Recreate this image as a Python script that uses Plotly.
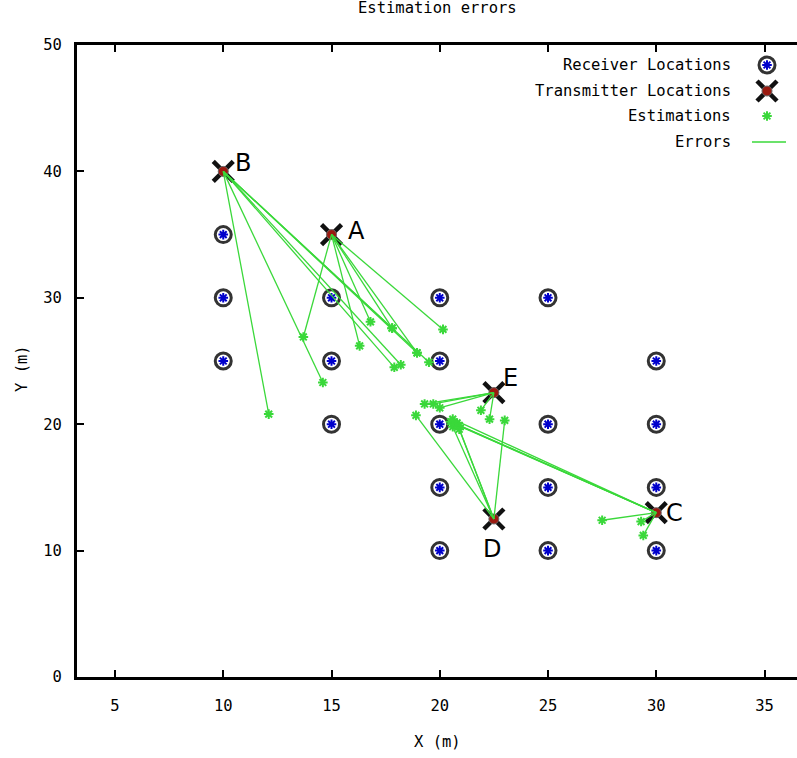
import plotly.graph_objects as go

# ---------------- data ----------------
rx_x = [10, 10, 10, 15, 15, 15, 20, 20, 20, 20, 20, 25, 25, 25, 25, 30, 30, 30, 30]
rx_y = [35, 30, 25, 30, 25, 20, 30, 25, 20, 15, 10, 30, 20, 15, 10, 25, 20, 15, 10]

tx_labels = ["A", "B", "C", "D", "E"]
tx_x = [15, 10, 30, 22.5, 22.5]
tx_y = [35, 40, 13, 12.5, 22.5]

est_from = ["B", "B", "B", "B", "B", "B", "B",
            "A", "A", "A", "A", "A", "A",
            "E", "E", "E", "E", "E",
            "D", "D", "D", "D", "D",
            "C", "C", "C", "C", "C", "C", "C"]
est_x = [12.1, 14.6, 17.9, 18.2, 18.95, 19.5, 17.8,
         13.7, 16.3, 16.8, 17.8, 20.15, 18.95,
         19.3, 19.7, 20.0, 21.9, 22.3,
         18.9, 20.6, 20.8, 20.9, 23.0,
         20.5, 20.7, 20.9, 20.6, 27.5, 29.3, 29.4]
est_y = [20.8, 23.3, 24.5, 24.7, 25.65, 24.9, 27.6,
         26.9, 26.2, 28.1, 27.6, 27.5, 25.65,
         21.6, 21.6, 21.3, 21.1, 20.4,
         20.7, 19.8, 20.1, 19.6, 20.3,
         20.2, 20.0, 19.9, 20.4, 12.4, 12.3, 11.2]

x_ticks = [5, 10, 15, 20, 25, 30, 35]
y_ticks = [0, 10, 20, 30, 40, 50]

legend_names = ["Receiver Locations", "Transmitter Locations", "Estimations", "Errors"]

# ---------------- styling ----------------
MONO = "DejaVu Sans Mono"
FS = 15.5
GREEN = "#3ad83a"
RX_RING = "#333333"
RX_STAR = "#0000cc"
TX_X = "#111111"
TX_DOT = "#9a1a10"

# label offsets (pixels) for transmitter letters
lab_off = {"A": (14, 4, "left"), "B": (10, 8, "left"), "C": (8, 0, "left"),
           "D": (-2, -30, "center"), "E": (7, 15, "left")}

fig = go.Figure()

def rx_markers(x, y, **kw):
    fig.add_trace(go.Scatter(x=x, y=y, mode="markers", showlegend=False, hoverinfo="skip",
                             marker=dict(symbol="circle-open", size=16, color=RX_RING,
                                         line=dict(width=3, color=RX_RING)), **kw))
    fig.add_trace(go.Scatter(x=x, y=y, mode="markers", showlegend=False, hoverinfo="skip",
                             marker=dict(symbol="asterisk-open", size=8, color=RX_STAR,
                                         line=dict(width=2, color=RX_STAR)), **kw))

def tx_markers(x, y, **kw):
    fig.add_trace(go.Scatter(x=x, y=y, mode="markers", showlegend=False, hoverinfo="skip",
                             marker=dict(symbol="x-thin-open", size=20, color=TX_X,
                                         line=dict(width=4.5, color=TX_X)), **kw))
    fig.add_trace(go.Scatter(x=x, y=y, mode="markers", showlegend=False, hoverinfo="skip",
                             marker=dict(symbol="circle", size=10, color=TX_DOT,
                                         line=dict(width=1, color="#666666")), **kw))

def est_markers(x, y, **kw):
    fig.add_trace(go.Scatter(x=x, y=y, mode="markers", showlegend=False, hoverinfo="skip",
                             marker=dict(symbol="asterisk-open", size=8, color=GREEN,
                                         line=dict(width=2, color=GREEN)), **kw))

rx_markers(rx_x, rx_y)
tx_markers(tx_x, tx_y)
est_markers(est_x, est_y)

# error lines
tx_pos = {l: (x, y) for l, x, y in zip(tx_labels, tx_x, tx_y)}
lx, ly = [], []
for f, ex, ey in zip(est_from, est_x, est_y):
    sx, sy = tx_pos[f]
    lx += [sx, ex, None]
    ly += [sy, ey, None]
fig.add_trace(go.Scatter(x=lx, y=ly, mode="lines", showlegend=False, hoverinfo="skip",
                         line=dict(color=GREEN, width=1.3)))

# transmitter letters
for l, x, y in zip(tx_labels, tx_x, tx_y):
    dx, dy, anc = lab_off[l]
    fig.add_annotation(x=x, y=y, text=l, showarrow=False, xanchor=anc, yanchor="middle",
                       xshift=dx, yshift=dy, font=dict(family="DejaVu Sans", size=24, color="black"))

# ---------------- legend (gnuplot style: text then symbol) ----------------
W, H = 797, 758
L, R, T, B = 77, 0, 45, 81
pw, ph = W - L - R, H - T - B

def px(xp):
    return (xp - L) / pw

def py(yp):
    return (H - B - yp) / ph

leg_rows = [65, 91, 116, 142]
sym_x = px(767)
rx_markers([sym_x], [py(leg_rows[0])], xaxis="x2", yaxis="y2")
tx_markers([sym_x], [py(leg_rows[1])], xaxis="x2", yaxis="y2")
est_markers([sym_x], [py(leg_rows[2])], xaxis="x2", yaxis="y2")
fig.add_trace(go.Scatter(x=[px(752), px(786)], y=[py(leg_rows[3])] * 2, xaxis="x2", yaxis="y2",
                         mode="lines", showlegend=False, hoverinfo="skip",
                         line=dict(color=GREEN, width=1.3)))
for name, r in zip(legend_names, leg_rows):
    fig.add_annotation(xref="paper", yref="paper", x=px(733), y=py(r), text=name, showarrow=False,
                       xanchor="right", yanchor="middle", font=dict(family=MONO, size=FS, color="black"))

# title and axis labels
fig.add_annotation(xref="paper", yref="paper", x=px(437), y=py(8), text="Estimation errors",
                   showarrow=False, xanchor="center", yanchor="middle",
                   font=dict(family=MONO, size=FS, color="black"))
fig.add_annotation(xref="paper", yref="paper", x=px(437), y=py(742), text="X (m)",
                   showarrow=False, xanchor="center", yanchor="middle",
                   font=dict(family=MONO, size=FS, color="black"))
fig.add_annotation(xref="paper", yref="paper", x=px(22), y=py(368), text="Y (m)", textangle=-90,
                   showarrow=False, xanchor="center", yanchor="middle",
                   font=dict(family=MONO, size=FS, color="black"))

axis_common = dict(showgrid=False, zeroline=False, showline=True, linecolor="black", linewidth=3,
                   ticks="inside", ticklen=7, tickwidth=2, tickcolor="black",
                   tickfont=dict(family=MONO, size=FS, color="black"))

fig.update_layout(
    width=W, height=H,
    margin=dict(l=L, r=R, t=T, b=B),
    paper_bgcolor="white", plot_bgcolor="white",
    showlegend=False,
    xaxis=dict(range=[3.245, 36.5], tickvals=x_ticks, mirror="ticks", ticklabelstandoff=12,
               **axis_common),
    yaxis=dict(range=[0, 50], tickvals=y_ticks, mirror=False, ticklabelstandoff=9,
               **axis_common),
    xaxis2=dict(overlaying="x", range=[0, 1], visible=False),
    yaxis2=dict(overlaying="y", range=[0, 1], visible=False),
)

fig.write_html("out.html")
